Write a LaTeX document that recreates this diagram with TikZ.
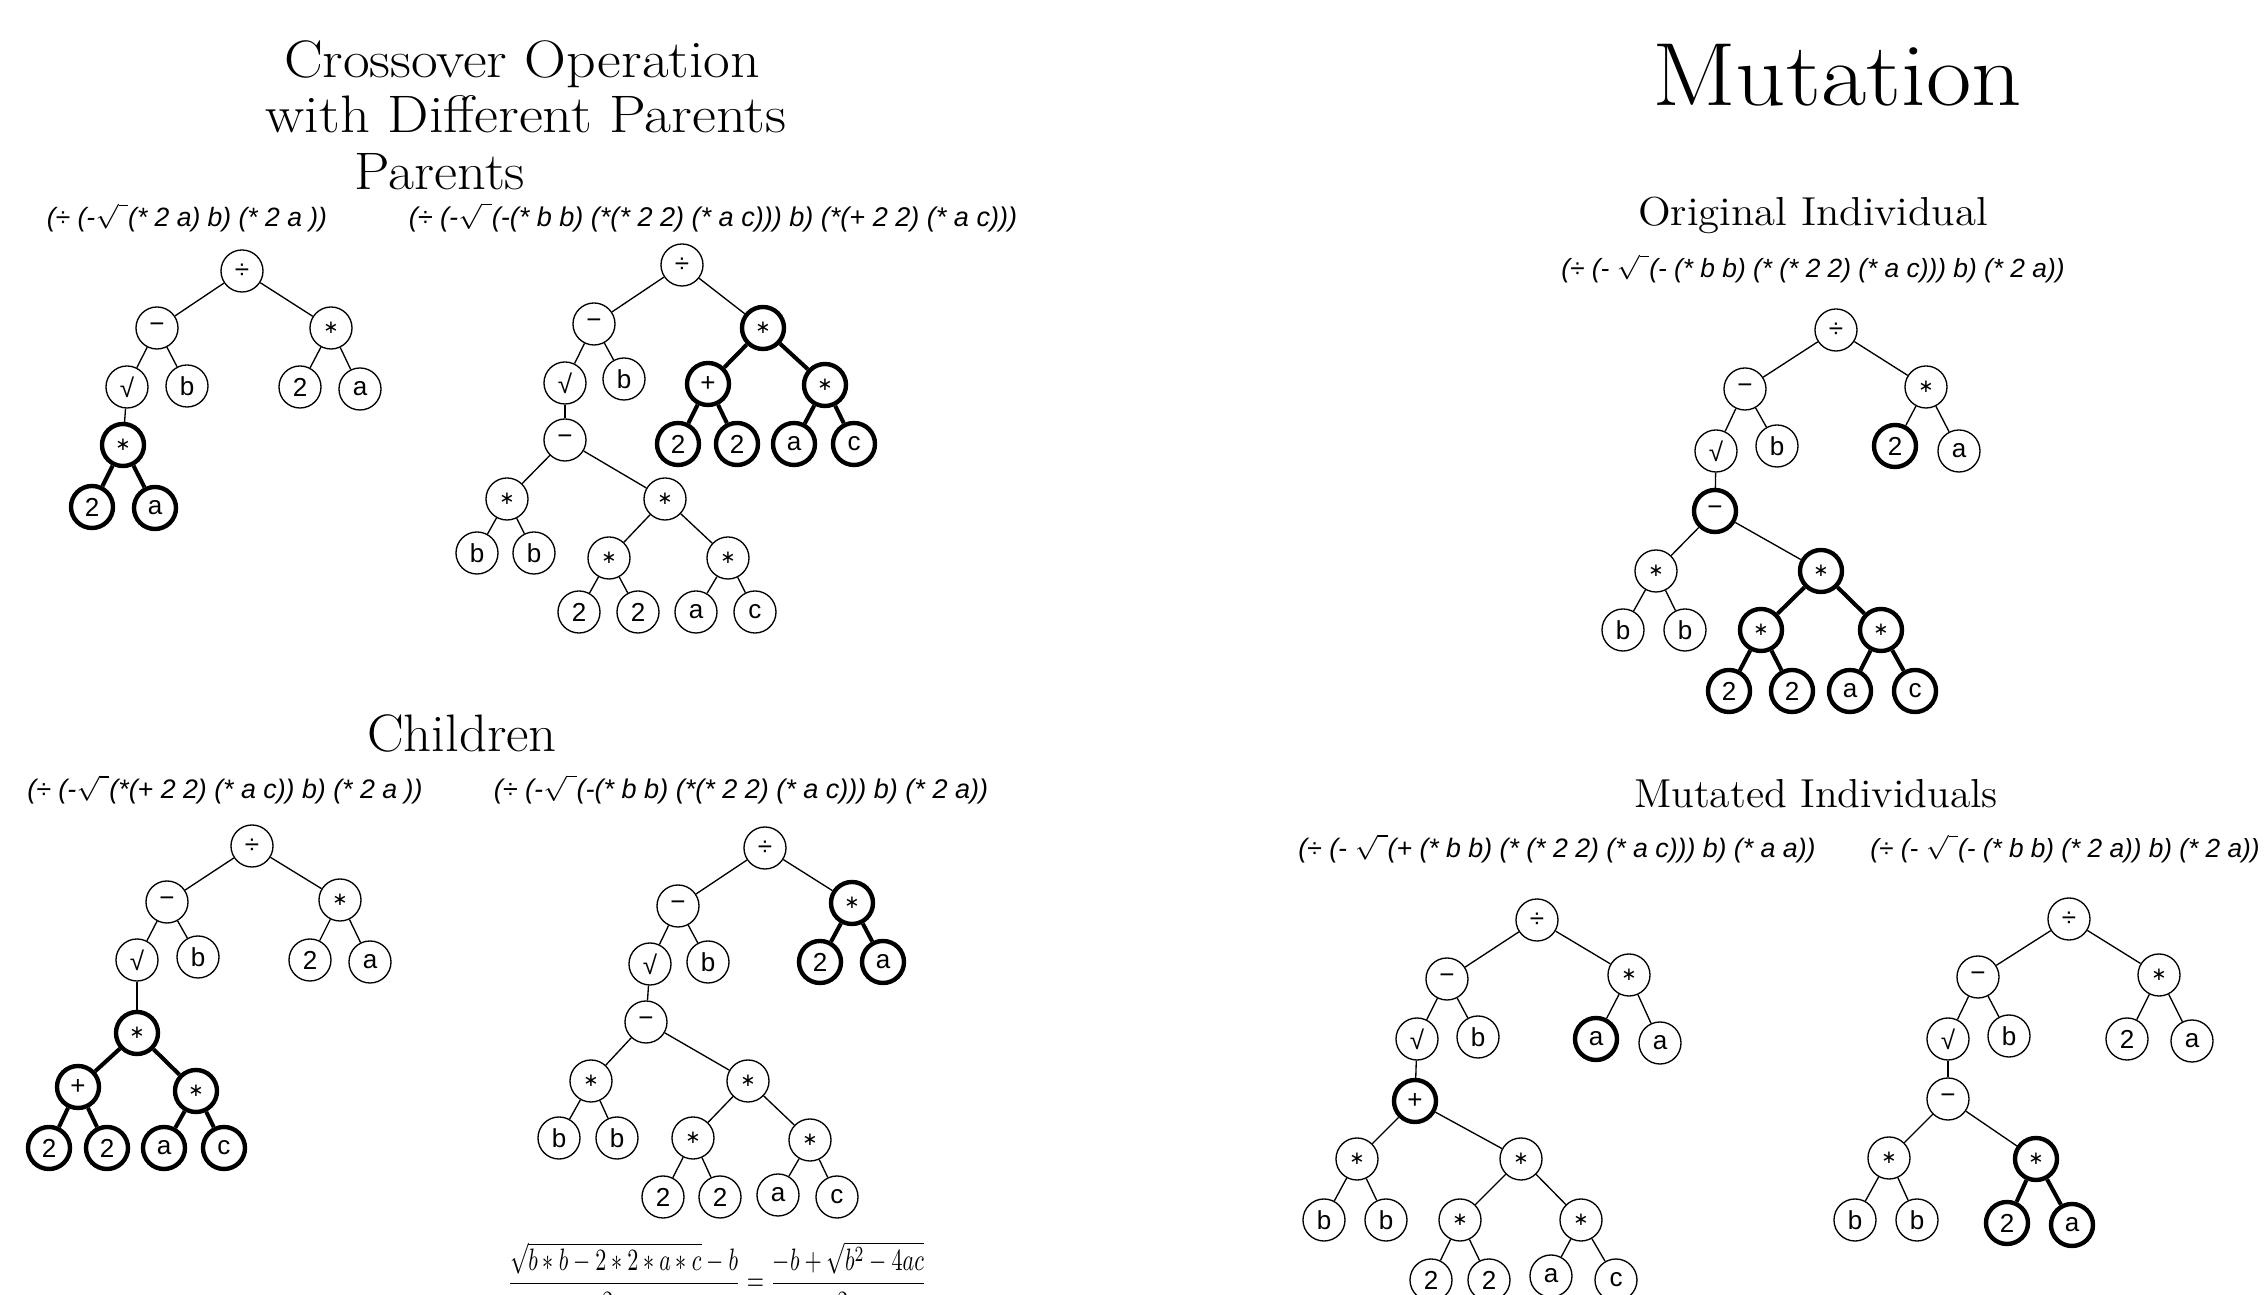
\documentclass[tikz,border=0pt]{standalone}
\usepackage{fontspec}
\usepackage{graphicx}
\newfontfamily\lsans{Liberation Sans}
\newfontfamily\dsans{DejaVu Sans}
\newcommand\dv{÷}
\newcommand\mn{−}
\newcommand\rt{√}
\newcommand\ml{{\dsans\fontsize{5.2}{6}\selectfont ∗}}
\newcommand\sq{$\sqrt{\vphantom{b}\,\,}$}
\newcommand\Nd[4]{\node[#1] (#2) at (#3) {#4};}
\newcommand\ex[2]{\resizebox{#1}{!}{#2}}
\begin{document}
\begin{tikzpicture}[x=0.01cm,y=-0.01cm,
  nd/.style={circle,draw,line width=0.38pt,minimum size=0.42cm,inner sep=0pt,font=\lsans\fontsize{7.4}{8}\selectfont},
  bn/.style={nd,line width=1.25pt},
  ed/.style={line width=0.38pt},
  be/.style={line width=1.15pt},
  ttl/.style={anchor=base,inner sep=0pt,font=\fontsize{15}{18}\selectfont},
  sub/.style={anchor=base,inner sep=0pt,font=\fontsize{11.5}{14}\selectfont},
  expr/.style={anchor=base,inner sep=0pt,font=\lsans\itshape\fontsize{7.5}{9}\selectfont}]
\useasboundingbox (0,0) rectangle (2265,1295);

% ---------- titles ----------
\node[ttl] (t1) at (522,78) {\scalebox{1.1}[1]{Crossover Operation}};
\node[ttl] (t2) at (526,133) {\scalebox{1.11}[1]{with Different Parents}};
\node[ttl] (t3) at (440,190) {\scalebox{1.07}[1]{Parents}};
\node[ttl] (t4) at (462,752) {\scalebox{1.04}[1]{Children}};
\node[anchor=base,inner sep=0pt,font=\fontsize{25.5}{30}\selectfont] (t5) at (1837,106) {\scalebox{1.1}[1]{Mutation}};
\node[sub] (t6) at (1813,226) {\scalebox{1.06}[1]{Original Individual}};
\node[sub] (t7) at (1816,808) {\scalebox{1.03}[1]{Mutated Individuals}};

% ---------- expressions ----------
\node[expr] (e1) at (187,227) {\ex{2.80cm}{(÷ (-\sq (* 2 a) b) (* 2 a ))}};
\node[expr] (e2) at (713,227) {\ex{6.08cm}{(÷ (-\sq (-(* b b) (*(* 2 2) (* a c))) b) (*(+ 2 2) (* a c)))}};
\node[expr] (e3) at (225,799) {\ex{3.95cm}{(÷ (-\sq (*(+ 2 2) (* a c)) b) (* 2 a ))}};
\node[expr] (e4) at (741,799) {\ex{4.94cm}{(÷ (-\sq (-(* b b) (*(* 2 2) (* a c))) b) (* 2 a))}};
\node[expr] (e5) at (1813,278) {\ex{5.03cm}{(÷ (- \sq(- (* b b) (* (* 2 2) (* a c))) b) (* 2 a))}};
\node[expr] (e6) at (1557,858) {\ex{5.17cm}{(÷ (- \sq(+ (* b b) (* (* 2 2) (* a c))) b) (* a a))}};
\node[expr] (e7) at (2065,858) {\ex{3.89cm}{(÷ (- \sq(- (* b b) (* 2 a)) b) (* 2 a))}};

% ---------- formula ----------
\node[anchor=base,inner sep=0pt] (frm) at (717,1291) {\scalebox{1}[1.4]{\resizebox{4.19cm}{!}{$\displaystyle\frac{\sqrt{b\ast b-2\ast 2\ast a\ast c}-b}{2\ast a}=\frac{-b+\sqrt{b^{2}-4ac}}{2a}$}}};

% ---------- left parent ----------
\Nd{nd}{lp0}{242,271}{\dv}
\Nd{nd}{lp1}{157,328}{\mn}
\Nd{nd}{lp2}{331,328}{\ml}
\Nd{nd}{lp3}{127,387}{\rt}
\Nd{nd}{lp4}{187,386}{b}
\Nd{nd}{lp5}{300,387}{2}
\Nd{nd}{lp6}{360,389}{a}
\Nd{bn}{lp7}{123,445}{\ml}
\Nd{bn}{lp8}{92,507}{2}
\Nd{bn}{lp9}{155,508}{a}
\foreach \a/\b in {lp0/lp1,lp0/lp2,lp1/lp3,lp1/lp4,lp2/lp5,lp2/lp6,lp3/lp7} \draw[ed] (\a) -- (\b);
\foreach \a/\b in {lp7/lp8,lp7/lp9} \draw[be] (\a) -- (\b);

% ---------- right parent ----------
\Nd{nd}{rp0}{682,265}{\dv}
\Nd{nd}{rp1}{594,324}{\mn}
\Nd{bn}{rp2}{763,328}{\ml}
\Nd{nd}{rp3}{565,383}{\rt}
\Nd{nd}{rp4}{624,379}{b}
\Nd{bn}{rp5}{708,384}{+}
\Nd{bn}{rp6}{825,385}{\ml}
\Nd{bn}{rp7}{678,444}{2}
\Nd{bn}{rp8}{737,444}{2}
\Nd{bn}{rp9}{794,444}{a}
\Nd{bn}{rp10}{854,444}{c}
\Nd{nd}{rp11}{565,440}{\mn}
\Nd{nd}{rp12}{507,499}{\ml}
\Nd{nd}{rp13}{665,499}{\ml}
\Nd{nd}{rp14}{477,553}{b}
\Nd{nd}{rp15}{534,553}{b}
\Nd{nd}{rp16}{609,558}{\ml}
\Nd{nd}{rp17}{728,558}{\ml}
\Nd{nd}{rp18}{579,612}{2}
\Nd{nd}{rp19}{638,612}{2}
\Nd{nd}{rp20}{696,612}{a}
\Nd{nd}{rp21}{755,612}{c}
\foreach \a/\b in {rp0/rp1,rp0/rp2,rp1/rp3,rp1/rp4,rp3/rp11,rp11/rp12,rp11/rp13,rp12/rp14,rp12/rp15,rp13/rp16,rp13/rp17,rp16/rp18,rp16/rp19,rp17/rp20,rp17/rp21} \draw[ed] (\a) -- (\b);
\foreach \a/\b in {rp2/rp5,rp2/rp6,rp5/rp7,rp5/rp8,rp6/rp9,rp6/rp10} \draw[be] (\a) -- (\b);

% ---------- child left ----------
\Nd{nd}{cl0}{252,846}{\dv}
\Nd{nd}{cl1}{167,902}{\mn}
\Nd{nd}{cl2}{340,900}{\ml}
\Nd{nd}{cl3}{137,960}{\rt}
\Nd{nd}{cl4}{198,957}{b}
\Nd{nd}{cl5}{310,960}{2}
\Nd{nd}{cl6}{370,962}{a}
\Nd{bn}{cl7}{137,1033}{\ml}
\Nd{bn}{cl8}{78,1087}{+}
\Nd{bn}{cl9}{196,1091}{\ml}
\Nd{bn}{cl10}{49,1148}{2}
\Nd{bn}{cl11}{107,1148}{2}
\Nd{bn}{cl12}{164,1148}{a}
\Nd{bn}{cl13}{224,1148}{c}
\foreach \a/\b in {cl0/cl1,cl0/cl2,cl1/cl3,cl1/cl4,cl2/cl5,cl2/cl6,cl3/cl7} \draw[ed] (\a) -- (\b);
\foreach \a/\b in {cl7/cl8,cl7/cl9,cl8/cl10,cl8/cl11,cl9/cl12,cl9/cl13} \draw[be] (\a) -- (\b);

% ---------- child right ----------
\Nd{nd}{cr0}{765,848}{\dv}
\Nd{nd}{cr1}{678,906}{\mn}
\Nd{bn}{cr2}{852,903}{\ml}
\Nd{nd}{cr3}{650,964}{\rt}
\Nd{nd}{cr4}{708,962}{b}
\Nd{bn}{cr5}{820,962}{2}
\Nd{bn}{cr6}{883,962}{a}
\Nd{nd}{cr7}{646,1022}{\mn}
\Nd{nd}{cr8}{591,1081}{\ml}
\Nd{nd}{cr9}{748,1081}{\ml}
\Nd{nd}{cr10}{559,1138}{b}
\Nd{nd}{cr11}{617,1138}{b}
\Nd{nd}{cr12}{693,1138}{\ml}
\Nd{nd}{cr13}{810,1140}{\ml}
\Nd{nd}{cr14}{663,1197}{2}
\Nd{nd}{cr15}{720,1197}{2}
\Nd{nd}{cr16}{778,1195}{a}
\Nd{nd}{cr17}{837,1197}{c}
\foreach \a/\b in {cr0/cr1,cr0/cr2,cr1/cr3,cr1/cr4,cr3/cr7,cr7/cr8,cr7/cr9,cr8/cr10,cr8/cr11,cr9/cr12,cr9/cr13,cr12/cr14,cr12/cr15,cr13/cr16,cr13/cr17} \draw[ed] (\a) -- (\b);
\foreach \a/\b in {cr2/cr5,cr2/cr6} \draw[be] (\a) -- (\b);

% ---------- mutation original ----------
\Nd{nd}{mo0}{1836,330}{\dv}
\Nd{nd}{mo1}{1745,389}{\mn}
\Nd{nd}{mo2}{1926,387}{\ml}
\Nd{nd}{mo3}{1716,451}{\rt}
\Nd{nd}{mo4}{1777,446}{b}
\Nd{bn}{mo5}{1895,446}{2}
\Nd{nd}{mo6}{1959,451}{a}
\Nd{bn}{mo7}{1715,511}{\mn}
\Nd{nd}{mo8}{1656,571}{\ml}
\Nd{bn}{mo9}{1821,571}{\ml}
\Nd{nd}{mo10}{1623,630}{b}
\Nd{nd}{mo11}{1685,630}{b}
\Nd{bn}{mo12}{1761,630}{\ml}
\Nd{bn}{mo13}{1881,630}{\ml}
\Nd{bn}{mo14}{1729,691}{2}
\Nd{bn}{mo15}{1792,691}{2}
\Nd{bn}{mo16}{1850,691}{a}
\Nd{bn}{mo17}{1915,691}{c}
\foreach \a/\b in {mo0/mo1,mo0/mo2,mo1/mo3,mo1/mo4,mo2/mo5,mo2/mo6,mo3/mo7,mo7/mo8,mo7/mo9,mo8/mo10,mo8/mo11} \draw[ed] (\a) -- (\b);
\foreach \a/\b in {mo9/mo12,mo9/mo13,mo12/mo14,mo12/mo15,mo13/mo16,mo13/mo17} \draw[be] (\a) -- (\b);

% ---------- mutated left ----------
\Nd{nd}{ml0}{1537,920}{\dv}
\Nd{nd}{ml1}{1447,979}{\mn}
\Nd{nd}{ml2}{1629,975}{\ml}
\Nd{nd}{ml3}{1417,1039}{\rt}
\Nd{nd}{ml4}{1478,1037}{b}
\Nd{bn}{ml5}{1596,1039}{a}
\Nd{nd}{ml6}{1660,1043}{a}
\Nd{bn}{ml7}{1415,1101}{+}
\Nd{nd}{ml8}{1357,1159}{\ml}
\Nd{nd}{ml9}{1521,1159}{\ml}
\Nd{nd}{ml10}{1324,1220}{b}
\Nd{nd}{ml11}{1386,1220}{b}
\Nd{nd}{ml12}{1460,1220}{\ml}
\Nd{nd}{ml13}{1581,1220}{\ml}
\Nd{nd}{ml14}{1431,1280}{2}
\Nd{nd}{ml15}{1489,1280}{2}
\Nd{nd}{ml16}{1551,1276}{a}
\Nd{nd}{ml17}{1616,1280}{c}
\foreach \a/\b in {ml0/ml1,ml0/ml2,ml1/ml3,ml1/ml4,ml2/ml5,ml2/ml6,ml3/ml7,ml7/ml8,ml7/ml9,ml8/ml10,ml8/ml11,ml9/ml12,ml9/ml13,ml12/ml14,ml12/ml15,ml13/ml16,ml13/ml17} \draw[ed] (\a) -- (\b);

% ---------- mutated right ----------
\Nd{nd}{mr0}{2069,919}{\dv}
\Nd{nd}{mr1}{1978,977}{\mn}
\Nd{nd}{mr2}{2159,975}{\ml}
\Nd{nd}{mr3}{1948,1039}{\rt}
\Nd{nd}{mr4}{2009,1036}{b}
\Nd{nd}{mr5}{2127,1039}{2}
\Nd{nd}{mr6}{2192,1041}{a}
\Nd{nd}{mr7}{1948,1099}{\mn}
\Nd{nd}{mr8}{1889,1158}{\ml}
\Nd{bn}{mr9}{2036,1159}{\ml}
\Nd{nd}{mr10}{1855,1220}{b}
\Nd{nd}{mr11}{1917,1220}{b}
\Nd{bn}{mr12}{2007,1223}{2}
\Nd{bn}{mr13}{2072,1225}{a}
\foreach \a/\b in {mr0/mr1,mr0/mr2,mr1/mr3,mr1/mr4,mr2/mr5,mr2/mr6,mr3/mr7,mr7/mr8,mr7/mr9,mr8/mr10,mr8/mr11} \draw[ed] (\a) -- (\b);
\foreach \a/\b in {mr9/mr12,mr9/mr13} \draw[be] (\a) -- (\b);
\end{tikzpicture}
\end{document}
